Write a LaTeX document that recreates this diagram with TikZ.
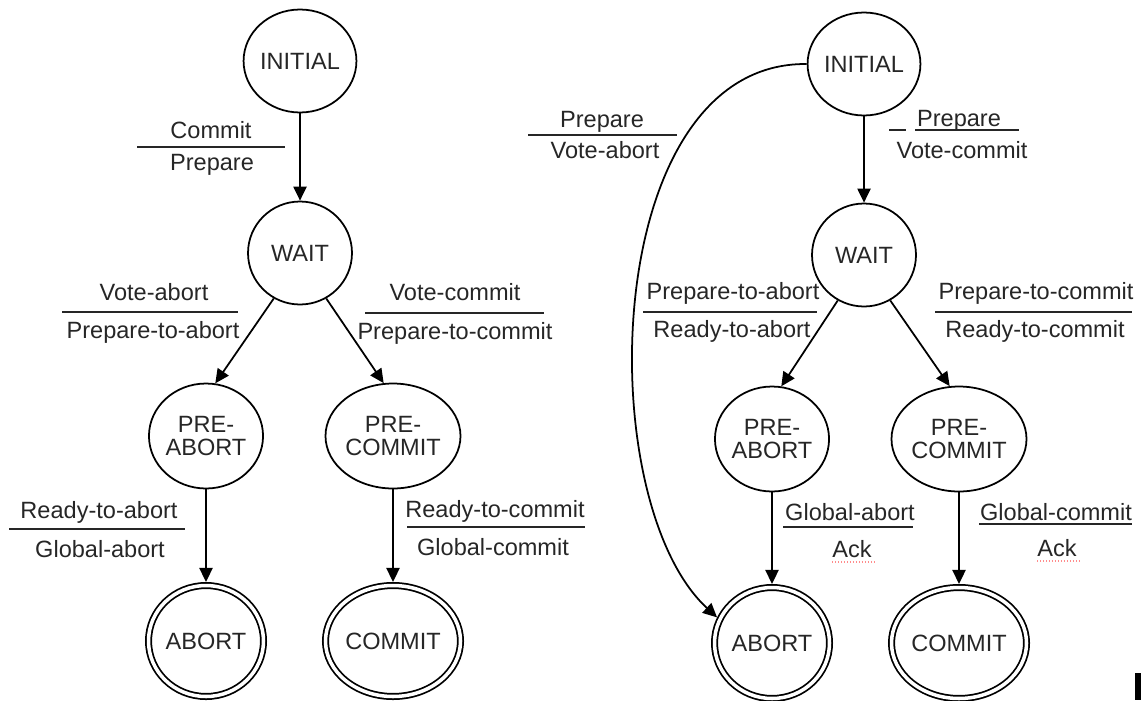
\documentclass[tikz,border=0pt]{standalone}
\usepackage{fontspec}
\setmainfont{Liberation Sans}
\usetikzlibrary{shapes.geometric,arrows.meta}
\begin{document}
\begin{tikzpicture}[x=0.02cm,y=-0.02cm,
  font=\fontsize{13.4}{13}\selectfont,
  state/.style={ellipse,draw,line width=1pt,inner sep=0pt,align=center,text=black!85},
  topstate/.style={state,minimum width=2.08cm,minimum height=2.06cm},
  midstate/.style={state,minimum width=2.26cm,minimum height=2.1cm},
  finalstate/.style={state,double,double distance=2pt,minimum width=2.3cm,minimum height=2.22cm,outer sep=2pt},
  edge/.style={line width=1pt,-{Triangle[length=8pt,width=7.5pt]}},
  lbl/.style={inner sep=0pt,text height=9.6pt,text depth=2.8pt,text=black!85},
  bar/.style={line width=1pt,black!85},
  squiggle/.style={red!45,densely dotted,line width=0.7pt}
]
\useasboundingbox (0,0) rectangle (1141,700);

% ---------- coordinator (left) ----------
\node[topstate]   (i1)  at (300,61)  {INITIAL};
\node[topstate]   (w1)  at (300,253) {WAIT};
\node[midstate]   (pa1) at (206,436) {PRE-\\ABORT};
\node[midstate]   (pc1) at (393,436) {PRE-\\COMMIT};
\node[finalstate] (a1)  at (206,641) {ABORT};
\node[finalstate] (c1)  at (393,641) {COMMIT};

\draw[edge] (i1) -- (w1);
\draw[edge] (w1.240) -- (pa1.80);
\draw[edge] (w1.300) -- (pc1.100);
\draw[edge] (pa1) -- (a1);
\draw[edge] (pc1) -- (c1);

\node[lbl] (l1a) at (211,133) {Commit};
\draw[bar] (137,147) -- (285,147);
\node[lbl] (l1b) at (212,165) {Prepare};

\node[lbl] (l2a) at (154,295) {Vote-abort};
\draw[bar] (62,312) -- (238,312);
\node[lbl] (l2b) at (153,333) {Prepare-to-abort};

\node[lbl] (l3a) at (455,295) {Vote-commit};
\draw[bar] (365,313) -- (544,313);
\node[lbl] (l3b) at (455,334) {Prepare-to-commit};

\node[lbl] (l4a) at (99,513) {Ready-to-abort};
\draw[bar] (9,529) -- (185,529);
\node[lbl] (l4b) at (100,552) {Global-abort};

\node[lbl] (l5a) at (495,512) {Ready-to-commit};
\draw[bar] (407,527) -- (585,527);
\node[lbl] (l5b) at (493,550) {Global-commit};

% ---------- participant (right) ----------
\node[topstate]   (i2)  at (864,64)  {INITIAL};
\node[topstate]   (w2)  at (864,255) {WAIT};
\node[midstate]   (pa2) at (772,439) {PRE-\\ABORT};
\node[midstate]   (pc2) at (959,439) {PRE-\\COMMIT};
\node[finalstate] (a2)  at (772,643) {ABORT};
\node[finalstate] (c2)  at (959,643) {COMMIT};

\draw[edge] (i2) -- (w2);
\draw[edge] (w2.240) -- (pa2.80);
\draw[edge] (w2.300) -- (pc2.100);
\draw[edge] (pa2) -- (a2);
\draw[edge] (pc2) -- (c2);
\draw[edge] (i2.west) .. controls (600,62) and (590,500) .. (a2.155);

\node[lbl] (r1a) at (602,122) {Prepare};
\draw[bar] (528,135) -- (677,135);
\node[lbl] (r1b) at (605,153) {Vote-abort};

\node[lbl] (r2a) at (959,121) {Prepare};
\draw[bar] (889,130) -- (906,130);
\draw[bar] (915,130) -- (1019,130);
\node[lbl] (r2b) at (962,153) {Vote-commit};

\node[lbl] (r3a) at (733,294) {Prepare-to-abort};
\draw[bar] (643,312) -- (817,312);
\node[lbl] (r3b) at (732,332) {Ready-to-abort};

\node[lbl] (r4a) at (1036,294) {Prepare-to-commit};
\draw[bar] (935,312) -- (1132,312);
\node[lbl] (r4b) at (1035,332) {Ready-to-commit};

\node[lbl] (r5a) at (850,515) {Global-abort};
\draw[bar] (783,527) -- (913,527);
\node[lbl] (r5b) at (852,552) {Ack};
\draw[squiggle] (r5b.base west) ++(0,4) -- ++(42,0);

\node[lbl] (r6a) at (1056,515) {Global-commit};
\draw[bar] (979,524) -- (1132,524);
\node[lbl] (r6b) at (1057,551) {Ack};
\draw[squiggle] (r6b.base west) ++(0,4) -- ++(42,0);

% edge mark at the lower right
\fill[black] (1135,673) rectangle (1141,700);
\end{tikzpicture}
\end{document}
